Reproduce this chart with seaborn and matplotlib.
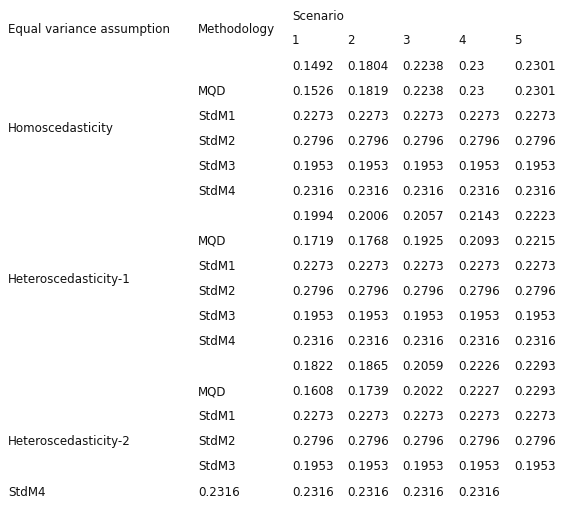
import matplotlib
matplotlib.use("Agg")
import matplotlib.pyplot as plt
import seaborn as sns

sns.set_theme(style="white")
plt.rcParams['font.family'] = ['DejaVu Sans']

scenarios = ["1", "2", "3", "4", "5"]
groups = ["Homoscedasticity", "Heteroscedasticity-1", "Heteroscedasticity-2"]
methods = ["", "MQD", "StdM1", "StdM2", "StdM3", "StdM4"]
homo = [[0.1492, 0.1804, 0.2238, 0.23, 0.2301],
        [0.1526, 0.1819, 0.2238, 0.23, 0.2301],
        [0.2273] * 5, [0.2796] * 5, [0.1953] * 5, [0.2316] * 5]
het1 = [[0.1994, 0.2006, 0.2057, 0.2143, 0.2223],
        [0.1719, 0.1768, 0.1925, 0.2093, 0.2215],
        [0.2273] * 5, [0.2796] * 5, [0.1953] * 5, [0.2316] * 5]
het2 = [[0.1822, 0.1865, 0.2059, 0.2226, 0.2293],
        [0.1608, 0.1739, 0.2022, 0.2227, 0.2293],
        [0.2273] * 5, [0.2796] * 5, [0.1953] * 5]
last_row = ["StdM4", "0.2316", "0.2316", "0.2316", "0.2316", "0.2316"]

fig = plt.figure(figsize=(5.77, 5.08), dpi=100)
ax = fig.add_axes([0, 0, 1, 1])
ax.set_xlim(0, 577)
ax.set_ylim(508, 0)
ax.axis("off")

fs = 8.6
col = "#111111"
xc = [8, 198, 292, 347, 402, 458, 514]
kw = dict(fontsize=fs, va="center", color=col)
ax.text(xc[2], 17, "Scenario", **kw)
ax.text(xc[0], 29, "Equal variance assumption", **kw)
ax.text(xc[1], 29, "Methodology", **kw)
for i, s in enumerate(scenarios):
    ax.text(xc[2 + i], 41, s, **kw)

y0, dy = 66, 25.06
r = 0
label_rows = [2.5, 8.5, 15]
for g, data in zip(groups, [homo, het1, het2]):
    for k, vals in enumerate(data):
        y = y0 + r * dy
        ax.text(xc[1], y, methods[k], **kw)
        for i, v in enumerate(vals):
            ax.text(xc[2 + i], y, f"{v:g}", **kw)
        r += 1
for g, lr in zip(groups, label_rows):
    ax.text(xc[0], y0 + lr * dy, g, **kw)
y = y0 + r * dy
ax.text(xc[0], y, last_row[0], **kw)
ax.text(xc[1], y, last_row[1], **kw)
for i, v in enumerate(last_row[2:]):
    ax.text(xc[2 + i], y, v, **kw)

fig.savefig("out.png", dpi=100)
